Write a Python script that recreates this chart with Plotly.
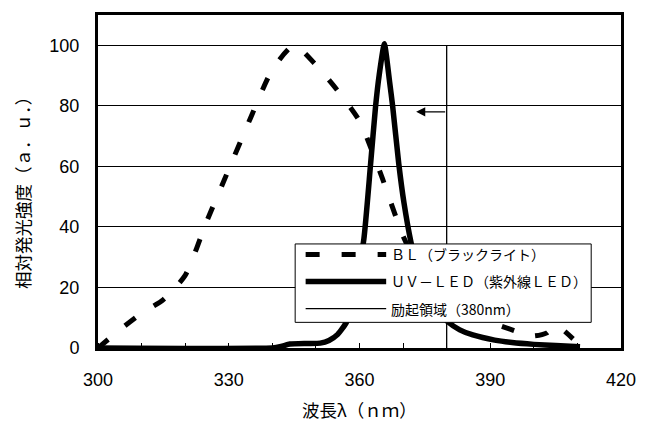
import plotly.graph_objects as go

# ---- data ----
bl_x = [300, 305, 310, 315, 320, 325, 330, 335, 340, 345, 350, 355, 360, 365, 370,
        375, 380, 385, 390, 393, 397, 400, 403, 405, 409]
bl_y = [0, 6, 11.5, 16, 24, 42, 59, 76, 92, 100, 93.5, 85, 75, 57, 37,
        23, 15, 11, 8.5, 7, 5, 4, 5, 7.5, 3]

led_x = [300, 340, 342, 344, 348, 351, 353, 355, 357, 359, 361, 362.5, 363.7, 364.5,
         365.7, 366.9, 367.6, 369, 370.2, 371.8, 374, 377, 380.4, 383, 386, 391, 395,
         400, 405, 410.6]
led_y = [0, 0, 0.5, 1.3, 1.5, 1.6, 2.5, 4.5, 8.5, 20, 36, 60, 80, 90,
         100.5, 88, 80, 61, 48, 35, 22, 14, 8.5, 6, 4.3, 2.6, 1.8,
         1.2, 0.8, 0.4]

exc_x = [380, 380]
exc_y = [0, 100]

arrow_from = (380, 78)
arrow_to = (373, 78)

legend_labels = ["ＢＬ（ブラックライト）", "ＵＶ－ＬＥＤ（紫外線ＬＥＤ）", "励起領域（380nm）"]

x_ticks = [300, 330, 360, 390, 420]
y_ticks = [0, 20, 40, 60, 80, 100]

x_title = "波長λ（ｎｍ）"
y_title = "相対発光強度（ａ．ｕ．）"

fig = go.Figure()
fig.add_trace(go.Scatter(x=bl_x, y=bl_y, mode="lines", name=legend_labels[0],
                         line=dict(color="black", width=5, dash="13px,22px",
                                   shape="spline", smoothing=0.6)))
fig.add_trace(go.Scatter(x=led_x, y=led_y, mode="lines", name=legend_labels[1],
                         line=dict(color="black", width=5.5, shape="spline", smoothing=0.5)))
fig.add_trace(go.Scatter(x=exc_x, y=exc_y, mode="lines", name=legend_labels[2],
                         line=dict(color="black", width=1.3)))

fig.add_annotation(x=arrow_to[0], y=arrow_to[1], ax=arrow_from[0], ay=arrow_from[1],
                   xref="x", yref="y", axref="x", ayref="y", text="",
                   showarrow=True, arrowhead=2, arrowsize=1.4, arrowwidth=1.3,
                   arrowcolor="black")

# manual legend (box + samples + labels), in plot-area fractions
lx0, lx1, ly0, ly1 = 0.377, 0.943, 0.077, 0.3125
fig.add_shape(type="rect", xref="x domain", yref="y domain", x0=lx0, x1=lx1, y0=ly0, y1=ly1,
              line=dict(color="black", width=1), fillcolor="white", layer="above")
rows = [0.281, 0.200, 0.118]
styles = [dict(width=5, dash="14px,22px"), dict(width=5.5), dict(width=1.3)]
for ry, st, lab in zip(rows, styles, legend_labels):
    fig.add_shape(type="line", xref="x domain", yref="y domain", x0=0.397, x1=0.551,
                  y0=ry, y1=ry, line=dict(color="black", **st), layer="above")
    fig.add_annotation(xref="x domain", yref="y domain", x=0.556, y=ry, text=lab,
                       showarrow=False, xanchor="left", yanchor="middle",
                       font=dict(family="Noto Sans CJK JP", size=14, color="black"))

# axis titles
fig.add_annotation(xref="x domain", yref="y domain", x=0.5, y=-0.185, text=x_title,
                   showarrow=False, xanchor="center", yanchor="middle",
                   font=dict(family="Noto Sans CJK JP", size=17.5, color="black"))
fig.add_annotation(xref="x domain", yref="y domain", x=-0.143, y=0.478, text=y_title,
                   showarrow=False, xanchor="center", yanchor="middle", textangle=-90,
                   font=dict(family="Noto Sans CJK JP", size=17.5, color="black"))

fig.update_layout(
    width=648, height=423,
    margin=dict(l=98, r=20, t=12, b=75),
    paper_bgcolor="white", plot_bgcolor="white",
    showlegend=False,
    font=dict(family="Liberation Sans, Arial", size=18, color="black"),
)
fig.update_xaxes(range=[300, 420], tickvals=x_ticks, ticks="", showgrid=False,
                 showline=True, linecolor="black", linewidth=3, mirror=True,
                 minor=dict(ticks="inside", dtick=10, ticklen=5, tickcolor="black", showgrid=False),
                 tickfont=dict(size=18), ticklabelstandoff=13)
fig.update_yaxes(range=[0, 110], tickvals=y_ticks, ticks="", showgrid=True,
                 gridcolor="black", gridwidth=1, zeroline=False,
                 showline=True, linecolor="black", linewidth=3, mirror=True,
                 tickfont=dict(size=18), ticklabelstandoff=12)

fig.write_html("out.html", config={"displayModeBar": False},
               post_script="document.body.style.margin='0';")
